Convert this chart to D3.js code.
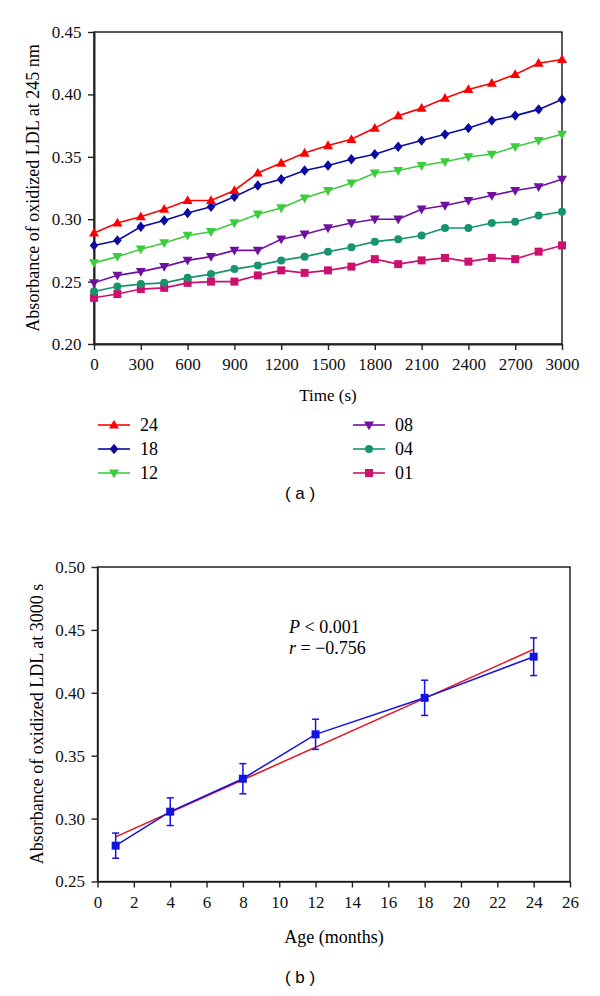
<!DOCTYPE html>
<html><head><meta charset="utf-8">
<script src="https://cdn.jsdelivr.net/npm/d3@7"></script>
<style>html,body{margin:0;padding:0;background:#fff;}svg{display:block;}</style>
</head><body>
<script>
// ---- Data panel (a) ----
const times = [0,150,300,450,600,750,900,1050,1200,1350,1500,1650,1800,1950,2100,2250,2400,2550,2700,2850,3000];
const s24 = [0.289,0.297,0.302,0.308,0.315,0.315,0.323,0.337,0.345,0.353,0.359,0.364,0.373,0.383,0.389,0.397,0.404,0.409,0.416,0.425,0.428];
const s18 = [0.279,0.283,0.294,0.299,0.305,0.310,0.318,0.327,0.332,0.339,0.343,0.348,0.352,0.358,0.363,0.368,0.373,0.379,0.383,0.388,0.396];
const s12 = [0.265,0.270,0.276,0.281,0.287,0.290,0.297,0.304,0.309,0.317,0.323,0.329,0.337,0.339,0.343,0.346,0.350,0.352,0.358,0.363,0.368];
const s08 = [0.249,0.255,0.258,0.262,0.267,0.270,0.275,0.275,0.284,0.288,0.293,0.297,0.300,0.300,0.308,0.311,0.315,0.319,0.323,0.326,0.332];
const s04 = [0.242,0.246,0.248,0.249,0.253,0.256,0.260,0.263,0.267,0.270,0.274,0.2775,0.282,0.284,0.287,0.293,0.293,0.297,0.298,0.303,0.306];
const s01 = [0.237,0.240,0.244,0.245,0.249,0.250,0.250,0.255,0.259,0.257,0.259,0.262,0.268,0.264,0.267,0.269,0.266,0.269,0.268,0.274,0.279];
const seriesNames = ["24","18","12","08","04","01"];
const xTicksA = [0,300,600,900,1200,1500,1800,2100,2400,2700,3000];
const yTicksA = [0.20,0.25,0.30,0.35,0.40,0.45];

// ---- Data panel (b) ----
const ages = [1,4,8,12,18,24];
const meansB = [0.2785,0.3055,0.3317,0.367,0.396,0.4287];
const errB = [0.010,0.011,0.012,0.012,0.014,0.015];
const fitX = [1,24];
const fitY = [0.2855,0.4345];
const xTicksB = [0,2,4,6,8,10,12,14,16,18,20,22,24,26];
const yTicksB = [0.25,0.30,0.35,0.40,0.45,0.50];

const serif = "'Liberation Serif','Times New Roman',serif";
const sans = "'Liberation Sans',Arial,sans-serif";

const svg = d3.select("body").append("svg").attr("width",600).attr("height",996);

// ---------- Panel (a) ----------
const xA = d3.scaleLinear().domain([0,3000]).range([94,562]);
const yA = d3.scaleLinear().domain([0.20,0.45]).range([344,32]);

const styles = {
  "24":{color:"#ff0000", sym:"tri"},
  "18":{color:"#0a0aa0", sym:"diamond"},
  "12":{color:"#3ccc3c", sym:"tridown"},
  "08":{color:"#7010a0", sym:"tridown"},
  "04":{color:"#17946e", sym:"circle"},
  "01":{color:"#cc1070", sym:"square"}
};
const seriesData = {"24":s24,"18":s18,"12":s12,"08":s08,"04":s04,"01":s01};

function marker(g, type, color){
  let p;
  if(type==="tri") p = g.append("path").attr("d","M0,-5.2L5,3.6L-5,3.6Z");
  else if(type==="tridown") p = g.append("path").attr("d","M0,5.2L5,-3.6L-5,-3.6Z");
  else if(type==="diamond") p = g.append("path").attr("d","M0,-5.2L4.3,0L0,5.2L-4.3,0Z");
  else if(type==="circle") p = g.append("circle").attr("r",4);
  else p = g.append("rect").attr("x",-4).attr("y",-4).attr("width",8).attr("height",8);
  p.attr("fill",color);
}

function styleAxis(a, w){
  a.attr("font-family",serif).attr("font-size",17);
  a.select(".domain").attr("stroke","#222").attr("stroke-width",w);
  a.selectAll(".tick line").attr("stroke","#222").attr("stroke-width",1.4);
  a.selectAll("text").attr("font-family",serif).style("font-family",serif)
    .attr("font-size",17).style("font-size","17px").attr("fill","#111");
}

const gA = svg.append("g");
gA.append("rect").attr("x",94).attr("y",32).attr("width",468).attr("height",312)
  .attr("fill","none").attr("stroke","#000").attr("stroke-width",1.3);

const axA_x = gA.append("g").attr("transform","translate(0,344)")
  .call(d3.axisBottom(xA).tickValues(xTicksA).tickSize(6).tickSizeOuter(0).tickFormat(d3.format("d")));
const axA_y = gA.append("g").attr("transform","translate(94,0)")
  .call(d3.axisLeft(yA).tickValues(yTicksA).tickSize(6).tickSizeOuter(0).tickFormat(d3.format(".2f")));
styleAxis(axA_x,2); styleAxis(axA_y,2);
axA_x.selectAll("text").attr("dy","1.0em");
axA_y.selectAll("text").attr("dx","-0.2em");

const lineA = d3.line().x((d,i)=>xA(times[i])).y(d=>yA(d));
seriesNames.slice().reverse().forEach(name=>{
  const st = styles[name], vals = seriesData[name];
  gA.append("path").datum(vals).attr("d",lineA).attr("fill","none")
    .attr("stroke",st.color).attr("stroke-width",1.6);
  vals.forEach((v,i)=>{
    const g = gA.append("g").attr("transform",`translate(${xA(times[i])},${yA(v)})`);
    marker(g, st.sym, st.color);
  });
});

gA.append("text").attr("x",328).attr("y",401).attr("text-anchor","middle")
  .attr("font-family",serif).attr("font-size",17).text("Time (s)");
gA.append("text").attr("transform","translate(39,188) rotate(-90)").attr("text-anchor","middle")
  .attr("font-family",serif).attr("font-size",18).text("Absorbance of oxidized LDL at 245 nm");

// legend
const legPos = [[98,425],[98,449],[98,473],[353,425],[353,449],[353,473]];
seriesNames.forEach((name,i)=>{
  const st = styles[name];
  const [lx,ly] = legPos[i];
  const g = svg.append("g").attr("transform",`translate(${lx},${ly})`);
  g.append("line").attr("x1",0).attr("x2",32).attr("y1",0).attr("y2",0)
    .attr("stroke",st.color).attr("stroke-width",1.6);
  const m = g.append("g").attr("transform","translate(16,0)");
  marker(m, st.sym, st.color);
  g.append("text").attr("x",42).attr("y",6).attr("font-family",serif).attr("font-size",18).text(name);
});

svg.append("text").attr("x",300).attr("y",499).attr("text-anchor","middle")
  .attr("font-family",sans).attr("font-size",17).text("( a )");

// ---------- Panel (b) ----------
const xB = d3.scaleLinear().domain([0,26]).range([97.5,570]);
const yB = d3.scaleLinear().domain([0.25,0.50]).range([881.5,567]);
const gB = svg.append("g");
gB.append("rect").attr("x",97.5).attr("y",567).attr("width",472.5).attr("height",314.5)
  .attr("fill","none").attr("stroke","#000").attr("stroke-width",1.3);
const axB_x = gB.append("g").attr("transform","translate(0,881.5)")
  .call(d3.axisBottom(xB).tickValues(xTicksB).tickSize(6).tickSizeOuter(0).tickFormat(d3.format("d")));
const axB_y = gB.append("g").attr("transform","translate(97.5,0)")
  .call(d3.axisLeft(yB).tickValues(yTicksB).tickSize(6).tickSizeOuter(0).tickFormat(d3.format(".2f")));
styleAxis(axB_x,1.5); styleAxis(axB_y,1.5);
axB_x.selectAll("text").attr("dy","1.0em");
axB_y.selectAll("text").attr("dx","-0.2em");

// fit line
gB.append("path").datum(fitX.map((x,i)=>[x,fitY[i]]))
  .attr("d",d3.line().x(d=>xB(d[0])).y(d=>yB(d[1])))
  .attr("fill","none").attr("stroke","#e8101c").attr("stroke-width",1.5);
// data line
const blue = "#1414e0";
gB.append("path").datum(ages.map((a,i)=>[a,meansB[i]]))
  .attr("d",d3.line().x(d=>xB(d[0])).y(d=>yB(d[1])))
  .attr("fill","none").attr("stroke",blue).attr("stroke-width",1.5);
ages.forEach((a,i)=>{
  const x = xB(a), y1 = yB(meansB[i]+errB[i]), y2 = yB(meansB[i]-errB[i]);
  gB.append("line").attr("x1",x).attr("x2",x).attr("y1",y1).attr("y2",y2).attr("stroke",blue).attr("stroke-width",1.5);
  [y1,y2].forEach(yy=>gB.append("line").attr("x1",x-3.5).attr("x2",x+3.5).attr("y1",yy).attr("y2",yy)
    .attr("stroke",blue).attr("stroke-width",1.5));
  gB.append("rect").attr("x",x-4).attr("y",yB(meansB[i])-4).attr("width",8).attr("height",8).attr("fill",blue);
});

const t1 = gB.append("text").attr("x",289).attr("y",633).attr("font-family",serif).attr("font-size",18);
t1.append("tspan").attr("font-style","italic").text("P");
t1.append("tspan").text(" < 0.001");
const t2 = gB.append("text").attr("x",289).attr("y",654).attr("font-family",serif).attr("font-size",18);
t2.append("tspan").attr("font-style","italic").text("r");
t2.append("tspan").text(" = \u22120.756");

gB.append("text").attr("x",334).attr("y",943).attr("text-anchor","middle")
  .attr("font-family",serif).attr("font-size",18).text("Age (months)");
gB.append("text").attr("transform","translate(43,724) rotate(-90)").attr("text-anchor","middle")
  .attr("font-family",serif).attr("font-size",18).text("Absorbance of oxidized LDL at 3000 s");

svg.append("text").attr("x",300).attr("y",983).attr("text-anchor","middle")
  .attr("font-family",sans).attr("font-size",17).text("( b )");
</script>
</body></html>
